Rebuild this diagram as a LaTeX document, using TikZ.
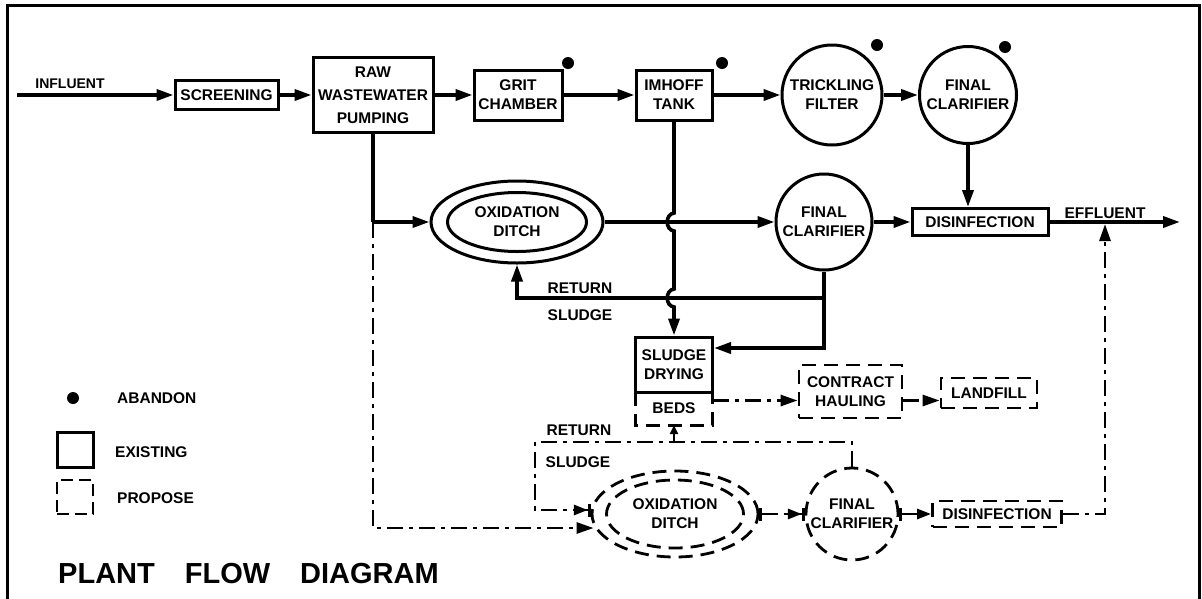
\documentclass[tikz,border=0pt]{standalone}
\usepackage{fontspec}
\setmainfont{Liberation Sans}
\usetikzlibrary{arrows.meta,shapes.geometric,calc}
\begin{document}
\tikzset{
  lbl/.style={font=\fontsize{15.5}{19}\selectfont\bfseries, align=center},
  ex/.style={draw, line width=3pt, inner sep=0pt, lbl},
  pr/.style={draw, line width=2.8pt, dash pattern=on 14pt off 8pt, inner sep=0pt, lbl},
  flow/.style={line width=3.6pt},
  dd/.style={line width=2.8pt, dash pattern=on 16pt off 6pt on 4pt off 6pt},
  arr/.style={-{Triangle[length=17pt,width=11pt]}},
  smallarr/.style={-{Triangle[length=9pt,width=8pt]}},
  arrbar/.style={-{Triangle[length=14pt,width=10pt]Bar[width=13pt,line width=2.8pt]}},
  bararr/.style={{Bar[width=13pt,line width=2.8pt]}-{Triangle[length=14pt,width=10pt]Bar[width=13pt,line width=2.8pt]}},
  barto/.style={{Bar[width=13pt,line width=2.8pt]}-{Triangle[length=14pt,width=10pt]}},
  abdot/.style={circle, fill, minimum size=12pt, inner sep=0pt},
  txt/.style={lbl, inner sep=0pt}
}
\begin{tikzpicture}[x=1pt,y=-1pt]
\useasboundingbox (0,0) rectangle (1202,598);
% frame
\draw[line width=3pt] (7,602) -- (7,5) -- (1199,5) -- (1199,602);

% existing top row
\node[ex, minimum width=103pt, minimum height=29pt] (screen) at (226.5,95) {SCREENING};
\node[ex, minimum width=120pt, minimum height=75pt, font=\fontsize{15.5}{23}\selectfont\bfseries] (raw) at (373,95) {RAW\\WASTEWATER\\PUMPING};
\node[ex, minimum width=88pt, minimum height=50pt] (grit) at (518,95) {GRIT\\CHAMBER};
\node[ex, minimum width=76pt, minimum height=50pt] (imhoff) at (674,95) {IMHOFF\\TANK};
\node[ex, circle, minimum size=100pt] (trick) at (832,95) {TRICKLING\\FILTER};
\node[ex, circle, minimum size=97pt] (fc1) at (968,95) {FINAL\\CLARIFIER};

\node[abdot] (d1) at (568,63) {};
\node[abdot] (d2) at (722,63) {};
\node[abdot] (d3) at (877,45) {};
\node[abdot] (d4) at (1005,47) {};

% existing middle row
\node[ex, ellipse, minimum width=172pt, minimum height=82pt] (ditch) at (517,222) {};
\node[ex, ellipse, minimum width=139pt, minimum height=59pt] (ditchin) at (ditch) {OXIDATION\\DITCH};
\node[ex, circle, minimum size=96pt] (fc2) at (824,222) {FINAL\\CLARIFIER};
\node[ex, minimum width=136pt, minimum height=27pt] (disinf) at (980,222) {DISINFECTION};

% sludge handling
\node[ex, minimum width=77pt, minimum height=55pt] (sludge) at (674,364.5) {SLUDGE\\DRYING};
\node[txt, minimum width=77pt, minimum height=33pt] (beds) at (674,408.5) {BEDS};
\draw[line width=2.8pt, dash pattern=on 14pt off 8pt] (beds.north west) -- (beds.south west) -- (beds.south east) -- (beds.north east);
\node[pr, minimum width=103pt, minimum height=53pt] (haul) at (850.5,391.5) {CONTRACT\\HAULING};
\node[pr, minimum width=96pt, minimum height=30pt] (landfill) at (989,393) {LANDFILL};

% proposed bottom row
\node[pr, ellipse, minimum width=166pt, minimum height=86pt] (pditch) at (675,514) {};
\node[pr, ellipse, minimum width=137pt, minimum height=68pt] (pditchin) at (pditch) {OXIDATION\\DITCH};
\node[pr, circle, minimum size=92pt] (pfc) at (852,514) {FINAL\\CLARIFIER};
\node[pr, minimum width=129pt, minimum height=26pt] (pdis) at (997,514) {DISINFECTION};

% labels
\node[txt, font=\fontsize{14}{14}\selectfont\bfseries, anchor=base] (linf) at (70,88) {INFLUENT};
\node[txt, anchor=base] (leff) at (1105,218) {EFFLUENT};
\node[txt, anchor=base] (lret1) at (580,293) {RETURN};
\node[txt, anchor=base] (lslu1) at (580,320) {SLUDGE};
\node[txt, anchor=base] (lret2) at (579,435) {RETURN};
\node[txt, anchor=base] (lslu2) at (578,467) {SLUDGE};

% legend
\node[abdot] (lgdot) at (73,398) {};
\node[txt, anchor=base west] (lgab) at (117,403) {ABANDON};
\node[ex, minimum width=36pt, minimum height=35pt] (lgex) at (75,449.5) {};
\node[txt, anchor=base west] (lgext) at (115,457) {EXISTING};
\node[pr, minimum width=36pt, minimum height=34pt, dash pattern=on 12pt off 6pt] (lgpr) at (75,497) {};
\node[txt, anchor=base west] (lgprt) at (117,503) {PROPOSE};
\node[anchor=base west, inner sep=0pt, font=\fontsize{29}{29}\selectfont\bfseries] (title) at (58,583) {PLANT\hspace{30pt}FLOW\hspace{30pt}DIAGRAM};

% coordinates
\coordinate (inf) at (17,95);
\coordinate (effl) at (1180,222);
\coordinate (split) at (373,222);
\coordinate (rsj) at (824,298);
\coordinate (prc) at (535,442);
\coordinate (effj) at (1105,224);
\coordinate (sin) at ([yshift=16.5pt]sludge.east);

% existing flow
\draw[flow,arr] (inf) -- (screen.west);
\draw[flow,arr] (screen) -- (raw);
\draw[flow,arr] (raw) -- (grit);
\draw[flow,arr] (grit) -- (imhoff);
\draw[flow,arr] (imhoff) -- (trick);
\draw[flow,arr] (trick) -- (fc1);
\draw[flow,arr] (fc1.south) -- (fc1.south |- disinf.north);
\draw[flow] (raw.south) -- (split);
\draw[flow,arr] (split) -- (ditch.west);
\draw[flow,arr] (ditch) -- (fc2);
\draw[flow,arr] (fc2) -- (disinf);
\draw[flow,arr] (disinf) -- (effl);
\draw[flow,arr] (imhoff.south) -- (674,213) .. controls (665,214) and (665,230) .. (674,231)
   -- (674,289) .. controls (665,290) and (665,306) .. (674,307) -- (sludge.north);
\draw[flow,arr] (fc2.south) |- (sin);
\draw[flow,arr] (rsj) -| (ditch.south);

% proposed flow
\draw[dd,arr] (split) |- ([yshift=-14pt,xshift=3pt]pditch.west);
\draw[dd,arrbar] (pfc.north) |- (prc) |- ([yshift=4pt]pditch.west);
\draw[line width=2.8pt,smallarr] (beds.south |- prc) -- (beds.south);
\draw[dd,arr] ([yshift=8pt]beds.east) -- ([yshift=-9pt]haul.west);
\draw[dd,arr] ([yshift=-9pt]haul.east) -- ([yshift=-7.5pt]landfill.west);
\draw[dd,bararr] (pditch) -- (pfc);
\draw[dd,barto] (pfc) -- (pdis);
\draw[dd,arr] (pdis.east) -| (effj);
\end{tikzpicture}
\end{document}
